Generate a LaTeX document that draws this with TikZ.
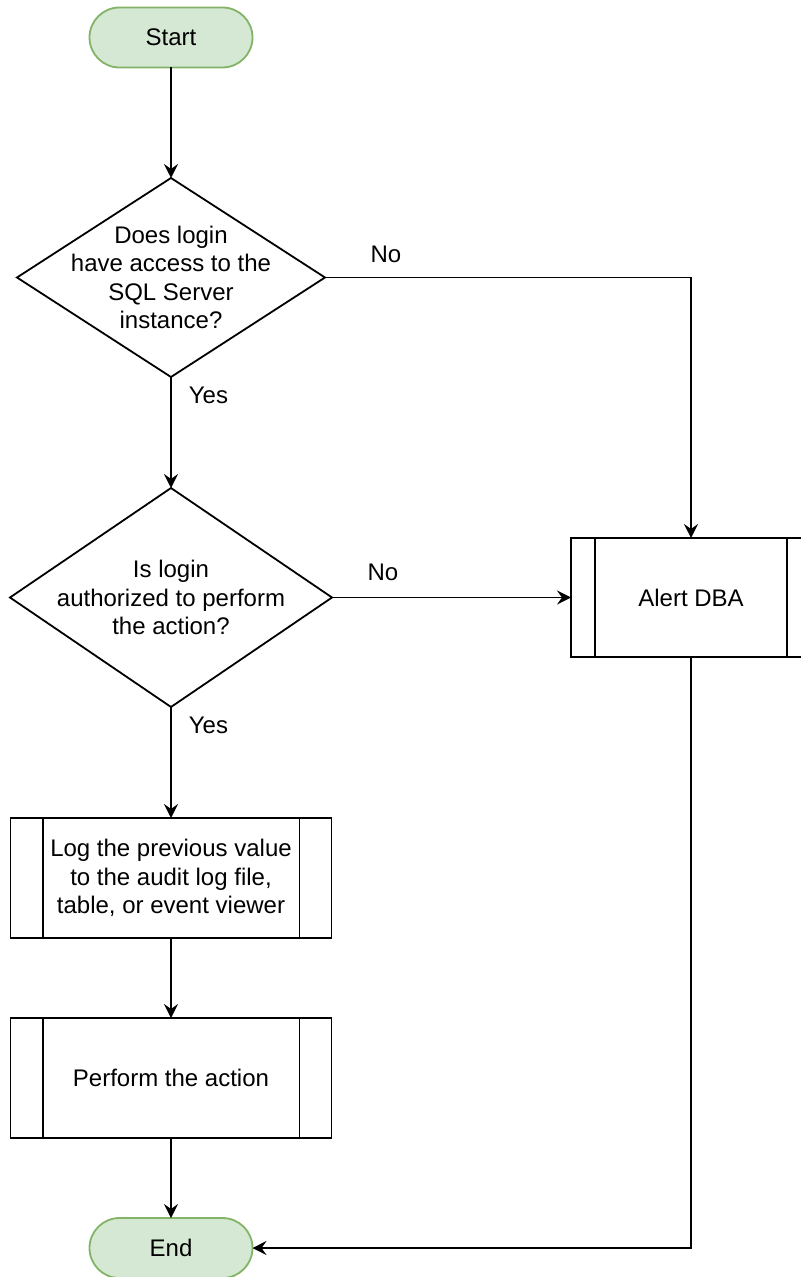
\documentclass[tikz,border=0pt]{standalone}
\usepackage{fontspec}
\setmainfont{Liberation Sans}
\usepackage{xcolor}
\usepackage{tikz}
\usetikzlibrary{shapes.geometric, arrows.meta, positioning, calc}

\definecolor{termfill}{HTML}{D5E8D4}
\definecolor{termdraw}{HTML}{82B366}

\begin{document}
\begin{tikzpicture}[
  font = \fontsize{12}{14.2}\selectfont,
  terminal/.style = {draw=termdraw, fill=termfill, rectangle, rounded corners=15pt, line width=0.9pt, outer sep=0pt, minimum width=81.5pt, minimum height=30pt},
  decision/.style = {draw, diamond, line width=0.9pt, inner sep=0pt, outer sep=0pt, minimum width=154pt, minimum height=99.5pt},
  process/.style = {draw, rectangle, line width=0.9pt, outer sep=0pt, minimum width=160.5pt, minimum height=60pt, align=center},
  lbl/.style = {inner sep=0pt},
  line/.style = {draw, -{Stealth[length=7pt, width=7pt, inset=2.5pt]}, line width=0.9pt}
  ]
 \useasboundingbox (0,0) rectangle (400.5pt,-638.5pt);
 \clip (0,0) rectangle (400.5pt,-638.5pt);
 % Start
 \node[terminal] (start) at (85.5pt,-18.75pt) {Start};
 % Decisions
 \node[decision, below=55.25pt of start] (access)
  [label={[align=center]center:Does login\\have access to the\\SQL Server\\instance?}] {};
 \node[decision, minimum width=161pt, minimum height=109.5pt, below=55.5pt of access] (authorized)
  [label={[align=center]center:Is login\\authorized to perform\\the action?}] {};
 % Processes
 \node[process, minimum width=120pt, minimum height=59.5pt, right=119.5pt of authorized] (alert) {Alert DBA};
 \node[process, below=55.5pt of authorized] (logval)
  {Log the previous value\\
  to the audit log file,\\
  table, or event viewer};
 \node[process, below=40pt of logval] (perform) {Perform the action};
 % End
 \node[terminal, below=40pt of perform] (end) {End};
 % Side bars of the predefined processes
 \foreach \n in {alert, logval, perform} {
  \draw[line width=0.9pt] ($(\n.north west)!0.1!(\n.north east)$) -- ($(\n.south west)!0.1!(\n.south east)$);
  \draw[line width=0.9pt] ($(\n.north east)!0.1!(\n.north west)$) -- ($(\n.south east)!0.1!(\n.south west)$);
 }
 % Arrows
 \draw[line] (start) -- (access);
 \draw[line] (access.south) -- (authorized.north)
  node[lbl, pos=0, anchor=west, xshift=8.5pt, yshift=-9pt] (yes1) {Yes};
 \draw[line] (access.east) -| (alert.north)
  node[lbl, pos=0, xshift=30.5pt, yshift=11.5pt] (no1) {No};
 \draw[line] (authorized.east) -- (alert.west)
  node[lbl, pos=0, xshift=25.5pt, yshift=12.5pt] (no2) {No};
 \draw[line] (authorized.south) -- (logval.north)
  node[lbl, pos=0, anchor=west, xshift=8.5pt, yshift=-9pt] (yes2) {Yes};
 \draw[line] (logval) -- (perform);
 \draw[line] (perform) -- (end);
 \draw[line] (alert.south) |- (end.east);
\end{tikzpicture}
\end{document}
